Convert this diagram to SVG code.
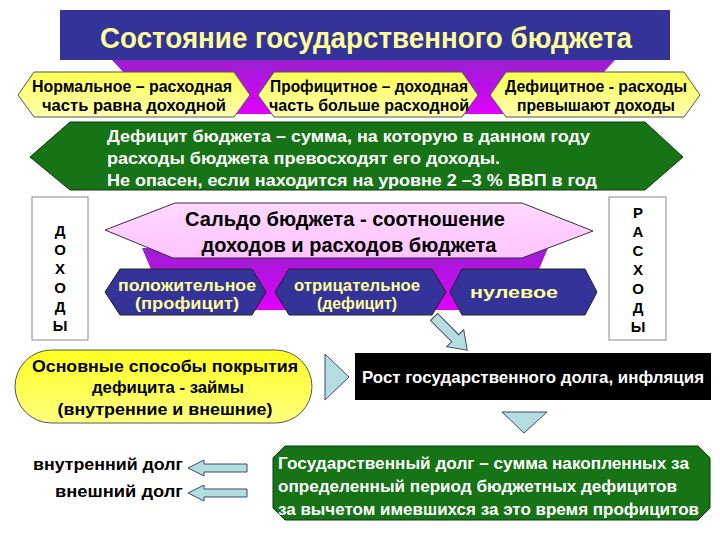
<svg xmlns="http://www.w3.org/2000/svg" width="720" height="540" viewBox="0 0 720 540">
<defs>
<linearGradient id="mag" x1="0" y1="0" x2="0" y2="1"><stop offset="0" stop-color="#9a1fd0"/><stop offset="1" stop-color="#e000ff"/></linearGradient>
<linearGradient id="yel" x1="0" y1="0" x2="0" y2="1"><stop offset="0" stop-color="#ffff55"/><stop offset="1" stop-color="#ffffb0"/></linearGradient>
<linearGradient id="yel2" x1="0" y1="0" x2="0" y2="1"><stop offset="0" stop-color="#ffff20"/><stop offset="1" stop-color="#ffff80"/></linearGradient>
<linearGradient id="pink" x1="0" y1="0" x2="0" y2="1"><stop offset="0" stop-color="#ffd8ff"/><stop offset="1" stop-color="#ffc4ff"/></linearGradient>
<style>
text{font-family:"Liberation Sans Narrow","Arial Narrow","Liberation Sans",Arial,sans-serif;font-weight:bold}
.c{text-anchor:middle}
.yh{fill:url(#yel);stroke:#555;stroke-width:1}
.nv{fill:#333399;stroke:#222;stroke-width:1}
.gr{fill:#167316;stroke:#0a3a0a;stroke-width:1}
.cy{fill:#b4dde0;stroke:#3a4a6a;stroke-width:1}
.side{fill:#fff;stroke:#888;stroke-width:1}
.t15{font-size:16px;fill:#000}
.w16{font-size:17px;fill:#fff}
.ny{font-size:16px;fill:#ffff99}
.lt{font-size:15px;fill:#000}
</style>
</defs>

<g id="backgrounds">
<polygon points="112,60 615,60 565,114 162,114" fill="url(#mag)"/>
<polygon points="142,248 548,248 522,310 168,310" fill="url(#mag)"/>
</g>

<g id="title">
<rect x="60" y="10" width="610" height="50" fill="#333399"/>
<text class="c" x="366" y="48" font-size="29" fill="#ffff99" textLength="532" lengthAdjust="spacingAndGlyphs">Состояние государственного бюджета</text>
</g>

<g id="normal">
<polygon class="yh" points="18,95 34,72 234,72 250,95 234,117 34,117"/>
<text class="c t15" x="132" y="92" textLength="200" lengthAdjust="spacingAndGlyphs">Нормальное – расходная</text>
<text class="c t15" x="134" y="111" textLength="184" lengthAdjust="spacingAndGlyphs">часть равна доходной</text>
</g>
<g id="proficit">
<polygon class="yh" points="258,95 274,72 462,72 478,95 462,117 274,117"/>
<text class="c t15" x="369" y="92" textLength="198" lengthAdjust="spacingAndGlyphs">Профицитное – доходная</text>
<text class="c t15" x="369" y="111" textLength="200" lengthAdjust="spacingAndGlyphs">часть больше расходной</text>
</g>
<g id="deficit">
<polygon class="yh" points="490,95 506,72 684,72 700,95 684,117 506,117"/>
<text class="c t15" x="596" y="92" textLength="182" lengthAdjust="spacingAndGlyphs">Дефицитное - расходы</text>
<text class="c t15" x="596" y="111" textLength="158" lengthAdjust="spacingAndGlyphs">превышают доходы</text>
</g>

<g id="deficit-def">
<polygon class="gr" points="30,157 70,122 645,122 683,157 645,190 70,190"/>
<text class="w16" x="107" y="142" textLength="483" lengthAdjust="spacingAndGlyphs">Дефицит бюджета – сумма, на которую в данном году</text>
<text class="w16" x="107" y="164" textLength="393" lengthAdjust="spacingAndGlyphs">расходы бюджета превосходят его доходы.</text>
<text class="w16" x="107" y="186" textLength="490" lengthAdjust="spacingAndGlyphs">Не опасен, если находится на уровне 2 –3 % ВВП в год</text>
</g>

<g id="dohody">
<rect class="side" x="32" y="197" width="56" height="143"/>
<text class="c lt" x="60" y="236">Д</text>
<text class="c lt" x="60" y="255">О</text>
<text class="c lt" x="60" y="274">Х</text>
<text class="c lt" x="60" y="293">О</text>
<text class="c lt" x="60" y="312">Д</text>
<text class="c lt" x="60" y="331">Ы</text>
</g>
<g id="rashody">
<rect class="side" x="609" y="197" width="57" height="143"/>
<text class="c lt" x="638" y="218">Р</text>
<text class="c lt" x="638" y="237">А</text>
<text class="c lt" x="638" y="256">С</text>
<text class="c lt" x="638" y="275">Х</text>
<text class="c lt" x="638" y="294">О</text>
<text class="c lt" x="638" y="313">Д</text>
<text class="c lt" x="638" y="332">Ы</text>
</g>

<g id="saldo">
<polygon points="105,230 175,203 522,203 593,231 522,258 173,258" fill="url(#pink)" stroke="#333" stroke-width="1"/>
<text class="c" x="345" y="226" font-size="19.5" fill="#000" textLength="320" lengthAdjust="spacingAndGlyphs">Сальдо бюджета - соотношение</text>
<text class="c" x="349" y="252" font-size="19.5" fill="#000" textLength="295" lengthAdjust="spacingAndGlyphs">доходов и расходов бюджета</text>
</g>

<g id="positive">
<polygon class="nv" points="105,292 120,269 252,269 266,292 252,315 120,315"/>
<text class="c ny" x="187" y="291" textLength="138" lengthAdjust="spacingAndGlyphs">положительное</text>
<text class="c ny" x="187" y="309" textLength="104" lengthAdjust="spacingAndGlyphs">(профицит)</text>
</g>
<g id="negative">
<polygon class="nv" points="275,292 289,269 432,269 446,292 432,315 289,315"/>
<text class="c ny" x="357" y="291" textLength="126" lengthAdjust="spacingAndGlyphs">отрицательное</text>
<text class="c ny" x="357" y="309" textLength="80" lengthAdjust="spacingAndGlyphs">(дефицит)</text>
</g>
<g id="zero">
<polygon class="nv" points="450,292 462,269 585,269 597,292 585,315 462,315"/>
<text class="c ny" x="514" y="298" textLength="88" lengthAdjust="spacingAndGlyphs">нулевое</text>
</g>

<g id="coverage">
<rect x="15" y="350" width="297" height="73" rx="36.5" ry="36.5" fill="url(#yel2)" stroke="#555" stroke-width="1"/>
<text class="c" x="165" y="372" font-size="17" fill="#000" textLength="266" lengthAdjust="spacingAndGlyphs">Основные способы покрытия</text>
<text class="c" x="168" y="393" font-size="17" fill="#000" textLength="152" lengthAdjust="spacingAndGlyphs">дефицита - займы</text>
<text class="c" x="165" y="415" font-size="17" fill="#000" textLength="215" lengthAdjust="spacingAndGlyphs">(внутренние и внешние)</text>
</g>

<g id="growth">
<rect x="355" y="353" width="356" height="47" fill="#000"/>
<text class="c" x="533" y="383" font-size="16.5" fill="#fff" textLength="342" lengthAdjust="spacingAndGlyphs">Рост государственного долга, инфляция</text>
</g>

<g id="gosdolg">
<polygon class="gr" points="285,446 698,446 710,458 710,508 698,520 285,520 273,508 273,458"/>
<text class="w16" x="278" y="469" font-size="16.5" textLength="411" lengthAdjust="spacingAndGlyphs">Государственный долг – сумма накопленных за</text>
<text class="w16" x="278" y="492" font-size="16.5" textLength="399" lengthAdjust="spacingAndGlyphs">определенный период бюджетных дефицитов</text>
<text class="w16" x="278" y="515" font-size="16.5" textLength="421" lengthAdjust="spacingAndGlyphs">за вычетом имевшихся за это время профицитов</text>
</g>

<g id="internal">
<text x="183" y="470" font-size="17" fill="#000" text-anchor="end" textLength="150" lengthAdjust="spacingAndGlyphs">внутренний долг</text>
</g>
<g id="external">
<text x="183" y="497" font-size="17" fill="#000" text-anchor="end" textLength="128" lengthAdjust="spacingAndGlyphs">внешний долг</text>
</g>

<g id="connectors">
<polygon class="cy" points="0,-5 30,-5 30,-12 47,0 30,12 30,5 0,5" transform="translate(434,317) rotate(45)"/>
<polygon class="cy" points="325,354 349,377 325,400"/>
<polygon class="cy" points="502,412 547,412 524,433"/>
<polygon class="cy" points="188,468 204,460 204,464 247,464 247,472 204,472 204,476"/>
<polygon class="cy" points="188,493 204,485 204,489 247,489 247,497 204,497 204,501"/>
</g>
</svg>
